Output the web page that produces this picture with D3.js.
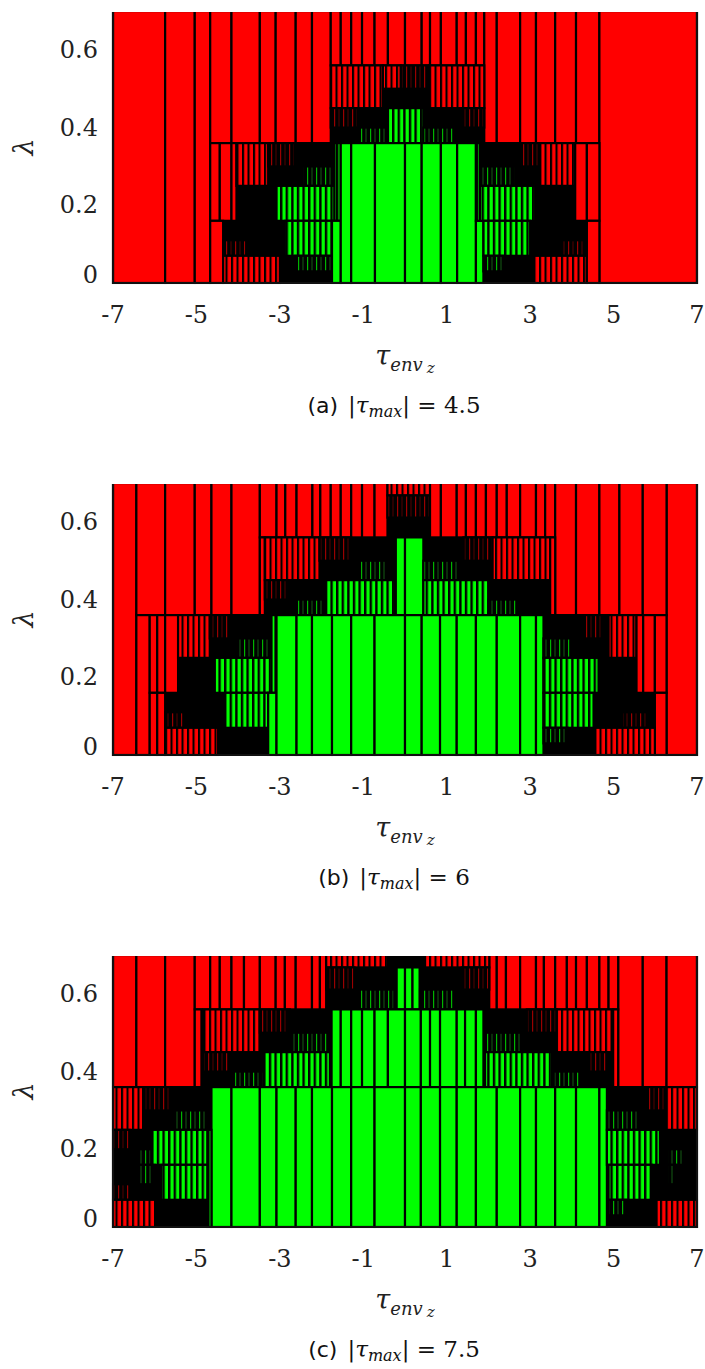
<!DOCTYPE html>
<html><head><meta charset="utf-8">
<script src="https://cdn.jsdelivr.net/npm/d3@7"></script>
<style>body{margin:0;background:#fff} svg{display:block}</style>
</head><body>
<script>
// ---------------- data ----------------
const xTicks = [-7, -5, -3, -1, 1, 3, 5, 7];
const yTicks = [0, 0.2, 0.4, 0.6];
const panelLetters = ["(a)", "(b)", "(c)"];
const tauMaxLabels = ["4.5", "6", "7.5"];
// box: [tau0, tau1, lambda0, lambda1, kind]
// kinds: R = outside (red), G = inside (green), r = fine red boxes,
// g = fine green boxes, d = boundary with few red boxes, e = boundary with few green boxes
const boxesA = [
  [-7,-5.75,0,0.7,"R"],[-5.75,-5.04,0,0.7,"R"],[-5.04,-4.67,0,0.7,"R"],
  [-4.67,-4.16,0.36,0.7,"R"],[-4.16,-3.48,0.36,0.7,"R"],[-3.48,-3.10,0.36,0.7,"R"],
  [-3.10,-2.62,0.36,0.7,"R"],[-2.62,-2.23,0.36,0.7,"R"],[-2.23,-1.78,0.36,0.7,"R"],
  [-1.78,-1.54,0.56,0.7,"R"],[-1.54,-1.29,0.56,0.7,"R"],[-1.29,-1.03,0.56,0.7,"R"],
  [-1.03,-0.73,0.56,0.7,"R"],[-0.73,-0.41,0.56,0.7,"R"],[-0.41,0,0.56,0.7,"R"],
  [0,0.4,0.56,0.7,"R"],[0.4,0.6,0.56,0.7,"R"],[0.6,0.86,0.56,0.7,"R"],
  [0.86,1.24,0.56,0.7,"R"],[1.24,1.46,0.56,0.7,"R"],[1.46,1.70,0.56,0.7,"R"],[1.70,1.90,0.56,0.7,"R"],
  [1.90,2.20,0.36,0.7,"R"],[2.20,2.76,0.36,0.7,"R"],[2.76,3.14,0.36,0.7,"R"],
  [3.14,3.60,0.36,0.7,"R"],[3.60,4.10,0.36,0.7,"R"],[4.10,4.66,0.36,0.7,"R"],
  [4.66,7,0,0.7,"R"],
  [-1.78,-0.53,0.45,0.56,"r"],[-0.53,-0.1,0.50,0.56,"r"],[-0.1,0.58,0.50,0.56,"d"],[0.58,1.90,0.45,0.56,"r"],
  [-1.78,-1.13,0.40,0.45,"d"],[-1.13,-0.45,0.36,0.40,"e"],[-0.41,0.44,0.36,0.45,"g"],
  [0.44,1.20,0.36,0.40,"e"],[1.36,1.90,0.40,0.45,"d"],
  [-4.67,-4.44,0.16,0.36,"R"],[-4.44,-4.16,0.16,0.36,"R"],[-4.16,-4.04,0.16,0.36,"R"],
  [-4.04,-3.28,0.25,0.36,"r"],[-3.28,-2.64,0.30,0.36,"d"],[-2.45,-1.69,0.25,0.30,"e"],
  [-3.08,-1.69,0.16,0.25,"g"],[-1.69,-1.54,0.16,0.36,"g"],
  [-4.67,-4.36,0,0.16,"R"],[-2.88,-1.75,0.07,0.16,"g"],[-4.36,-3.80,0.07,0.11,"d"],
  [-4.36,-3.00,0,0.07,"r"],[-2.64,-1.75,0.03,0.07,"e"],[-1.75,-1.54,0,0.16,"G"],
  [-1.54,-1.29,0,0.36,"G"],[-1.29,-0.72,0,0.36,"G"],[-0.72,0,0,0.36,"G"],[0,0.4,0,0.36,"G"],
  [0.4,0.86,0,0.36,"G"],[0.86,1.25,0,0.36,"G"],[1.25,1.70,0,0.36,"G"],
  [1.70,1.88,0,0.16,"G"],[1.70,1.80,0.16,0.36,"g"],
  [2.76,3.24,0.30,0.36,"d"],[3.24,4.08,0.25,0.36,"r"],[1.80,2.64,0.25,0.30,"e"],
  [1.80,3.12,0.16,0.25,"g"],[4.08,4.36,0.16,0.36,"R"],[4.36,4.66,0.16,0.36,"R"],
  [1.88,3.0,0.07,0.16,"g"],[3.76,4.32,0.07,0.11,"d"],[1.88,2.36,0.03,0.07,"e"],
  [3.08,4.36,0,0.07,"r"],[4.36,4.66,0,0.16,"R"]
];
const boxesB = [
  [-7,-6.44,0,0.7,"R"],[6.27,7,0,0.7,"R"],
  [-6.44,-5.75,0.36,0.7,"R"],[-5.75,-5.04,0.36,0.7,"R"],[-5.04,-4.64,0.36,0.7,"R"],
  [-4.64,-4.16,0.36,0.7,"R"],[-4.16,-3.48,0.36,0.7,"R"],
  [-3.48,-3.08,0.56,0.7,"R"],[-3.08,-2.87,0.56,0.7,"R"],[-2.87,-2.60,0.56,0.7,"R"],
  [-2.60,-2.22,0.56,0.7,"R"],[-2.22,-2.03,0.56,0.7,"R"],[-2.03,-1.78,0.56,0.7,"R"],
  [-1.78,-1.54,0.56,0.7,"R"],[-1.54,-1.29,0.56,0.7,"R"],[-1.29,-1.03,0.56,0.7,"R"],
  [-1.03,-0.73,0.56,0.7,"R"],[-0.73,-0.42,0.56,0.7,"R"],
  [-0.42,0.60,0.668,0.70,"r"],[-0.42,0.60,0.611,0.668,"d"],
  [0.60,0.86,0.56,0.7,"R"],[0.86,1.24,0.56,0.7,"R"],[1.24,1.46,0.56,0.7,"R"],
  [1.46,1.70,0.56,0.7,"R"],[1.70,1.94,0.56,0.7,"R"],[1.94,2.20,0.56,0.7,"R"],
  [2.20,2.44,0.56,0.7,"R"],[2.44,2.76,0.56,0.7,"R"],[2.76,3.14,0.56,0.7,"R"],
  [3.14,3.36,0.56,0.7,"R"],[3.36,3.60,0.56,0.7,"R"],
  [3.60,4.10,0.36,0.7,"R"],[4.10,4.66,0.36,0.7,"R"],[4.66,5.14,0.36,0.7,"R"],
  [5.14,5.70,0.36,0.7,"R"],[5.70,6.27,0.36,0.7,"R"],
  [-3.48,-3.36,0.36,0.56,"R"],[-3.36,-2.05,0.45,0.56,"r"],[-2.05,-1.29,0.50,0.56,"d"],
  [-1.15,-0.45,0.45,0.50,"e"],[-3.36,-2.8,0.40,0.45,"d"],[-1.9,-0.25,0.36,0.45,"g"],
  [-2.6,-1.9,0.36,0.40,"e"],[-0.22,0,0.36,0.56,"G"],[0,0.44,0.36,0.56,"G"],
  [1.40,2.10,0.50,0.56,"d"],[2.10,3.48,0.45,0.56,"r"],[0.44,1.30,0.45,0.50,"e"],
  [0.44,2.0,0.36,0.45,"g"],[2.0,2.7,0.36,0.40,"e"],[3.48,3.60,0.36,0.56,"R"],
  [-6.44,-6.12,0,0.36,"R"],[-6.12,-5.94,0.16,0.36,"R"],[-5.94,-5.75,0.16,0.36,"R"],
  [-5.75,-5.44,0.16,0.36,"R"],[-6.12,-5.94,0,0.16,"R"],[-5.94,-5.75,0,0.16,"R"],
  [-5.44,-4.68,0.25,0.36,"r"],[-4.68,-4.20,0.30,0.36,"d"],[-4.04,-3.20,0.25,0.30,"e"],
  [-4.56,-3.16,0.16,0.25,"g"],[-3.20,-3.08,0.16,0.36,"g"],
  [-4.32,-3.28,0.07,0.16,"g"],[-5.75,-5.3,0.07,0.11,"d"],[-5.75,-4.48,0,0.07,"r"],
  [-3.28,-3.08,0,0.16,"G"],
  [-3.08,-2.60,0,0.36,"G"],[-2.60,-2.23,0,0.36,"G"],[-2.23,-1.75,0,0.36,"G"],
  [-1.75,-1.29,0,0.36,"G"],[-1.29,-0.73,0,0.36,"G"],[-0.73,0,0,0.36,"G"],
  [0,0.40,0,0.36,"G"],[0.40,0.84,0,0.36,"G"],[0.84,1.24,0,0.36,"G"],
  [1.24,1.70,0,0.36,"G"],[1.70,2.20,0,0.36,"G"],[2.20,2.76,0,0.36,"G"],
  [2.76,3.14,0,0.36,"G"],[3.14,3.32,0,0.36,"G"],
  [4.28,4.72,0.30,0.36,"d"],[4.88,5.55,0.25,0.36,"r"],[5.55,5.71,0.16,0.36,"R"],
  [5.71,5.99,0.16,0.36,"R"],[5.99,6.27,0.16,0.36,"R"],[5.99,6.27,0,0.16,"R"],
  [3.32,3.98,0.25,0.30,"e"],[3.32,4.64,0.16,0.25,"g"],
  [3.32,4.52,0.07,0.16,"g"],[5.2,5.8,0.07,0.11,"d"],[3.32,3.9,0.03,0.07,"e"],
  [4.56,5.99,0,0.07,"r"]
];
const boxesC = [
  [-7,-6.44,0.36,0.7,"R"],[-6.44,-5.75,0.36,0.7,"R"],[-5.75,-5.04,0.36,0.7,"R"],
  [5.11,5.70,0.36,0.7,"R"],[5.70,6.27,0.36,0.7,"R"],[6.27,7,0.36,0.7,"R"],
  [-5.04,-4.67,0.56,0.7,"R"],[-4.67,-4.44,0.56,0.7,"R"],[-4.44,-4.16,0.56,0.7,"R"],
  [-4.16,-3.86,0.56,0.7,"R"],[-3.86,-3.48,0.56,0.7,"R"],[-3.48,-3.10,0.56,0.7,"R"],
  [-3.10,-2.88,0.56,0.7,"R"],[-2.88,-2.62,0.56,0.7,"R"],[-2.62,-2.23,0.56,0.7,"R"],
  [-2.23,-2.04,0.56,0.7,"R"],[-2.04,-1.89,0.56,0.7,"R"],
  [2.02,2.20,0.56,0.7,"R"],[2.20,2.42,0.56,0.7,"R"],[2.42,2.76,0.56,0.7,"R"],
  [2.76,3.14,0.56,0.7,"R"],[3.14,3.33,0.56,0.7,"R"],[3.33,3.60,0.56,0.7,"R"],
  [3.60,3.88,0.56,0.7,"R"],[3.88,4.10,0.56,0.7,"R"],[4.10,4.36,0.56,0.7,"R"],
  [4.36,4.66,0.56,0.7,"R"],[4.66,4.88,0.56,0.7,"R"],[4.88,5.11,0.56,0.7,"R"],
  [-1.89,-0.41,0.668,0.70,"r"],[0.48,2.02,0.668,0.70,"r"],
  [-1.89,-1.21,0.611,0.668,"d"],[-1.09,-0.25,0.56,0.611,"e"],
  [-0.2,0,0.56,0.668,"G"],[0,0.18,0.56,0.668,"G"],[0.18,0.35,0.56,0.668,"G"],
  [1.36,2.02,0.611,0.668,"d"],[0.36,1.2,0.56,0.611,"e"],
  [-5.04,-4.88,0.36,0.56,"R"],[-4.84,-3.48,0.45,0.56,"r"],[-3.48,-2.76,0.50,0.56,"d"],
  [-2.72,-1.82,0.45,0.50,"e"],[-4.84,-4.2,0.40,0.45,"d"],[-3.4,-1.8,0.36,0.45,"g"],
  [-4.1,-3.4,0.36,0.40,"e"],
  [-1.76,-1.54,0.36,0.56,"G"],[-1.54,-1.29,0.36,0.56,"G"],[-1.29,-1.03,0.36,0.56,"G"],
  [-1.03,-0.73,0.36,0.56,"G"],[-0.73,-0.41,0.36,0.56,"G"],[-0.41,0,0.36,0.56,"G"],
  [0,0.38,0.36,0.56,"G"],[0.38,0.6,0.36,0.56,"G"],[0.6,0.84,0.36,0.56,"G"],
  [0.84,1.24,0.36,0.56,"G"],[1.24,1.44,0.36,0.56,"G"],[1.44,1.70,0.36,0.56,"G"],
  [1.70,1.88,0.36,0.56,"G"],
  [2.92,3.64,0.50,0.56,"d"],[3.64,4.99,0.45,0.56,"r"],[1.92,2.80,0.45,0.50,"e"],
  [1.92,3.52,0.36,0.45,"g"],[4.36,4.88,0.40,0.45,"d"],[3.56,4.24,0.36,0.40,"e"],
  [4.99,5.11,0.36,0.56,"R"],
  [-4.64,-4.16,0,0.36,"G"],[-4.16,-3.48,0,0.36,"G"],[-3.48,-3.08,0,0.36,"G"],
  [-3.08,-2.62,0,0.36,"G"],[-2.62,-2.23,0,0.36,"G"],[-2.23,-1.75,0,0.36,"G"],
  [-1.75,-1.29,0,0.36,"G"],[-1.29,-0.73,0,0.36,"G"],[-0.73,0,0,0.36,"G"],
  [0,0.38,0,0.36,"G"],[0.38,0.84,0,0.36,"G"],[0.84,1.24,0,0.36,"G"],
  [1.24,1.70,0,0.36,"G"],[1.70,2.20,0,0.36,"G"],[2.20,2.76,0,0.36,"G"],
  [2.76,3.14,0,0.36,"G"],[3.14,3.60,0,0.36,"G"],[3.60,4.10,0,0.36,"G"],
  [4.10,4.66,0,0.36,"G"],[4.66,4.84,0,0.36,"G"],
  [-4.74,-4.64,0,0.25,"g"],
  [-7,-6.28,0.25,0.36,"r"],[-6.24,-5.6,0.30,0.36,"d"],[-5.52,-4.76,0.25,0.30,"e"],
  [-7,-6.6,0.20,0.25,"d"],[-6.08,-4.74,0.16,0.25,"g"],[-6.4,-6.08,0.16,0.20,"e"],
  [-6.4,-6.0,0.11,0.16,"e"],[-5.84,-4.74,0.07,0.16,"g"],[-7,-6.56,0.07,0.11,"d"],
  [-7,-5.99,0,0.07,"r"],
  [5.75,6.27,0.30,0.36,"d"],[6.27,7,0.25,0.36,"r"],[4.84,5.6,0.25,0.30,"e"],
  [4.84,6.11,0.16,0.25,"g"],[6.3,6.7,0.16,0.20,"e"],[4.88,5.92,0.07,0.16,"g"],
  [6.3,6.5,0.11,0.16,"e"],[4.88,5.3,0.03,0.07,"e"],[6.03,7,0,0.07,"r"]
];

// ---------------- layout ----------------
const W = 705, H = 1369;
const plotLeft = 113, plotRight = 697, plotH = 272;
const panelTops = [11, 483, 955];
const panelBoxes = [boxesA, boxesB, boxesC];
const serif = "'DejaVu Serif', serif";

const svg = d3.select("body").append("svg").attr("width", W).attr("height", H);
const defs = svg.append("defs");

function stripePattern(id, bg, bars, period) {
  const p = defs.append("pattern").attr("id", id).attr("patternUnits", "userSpaceOnUse")
    .attr("width", period).attr("height", 20);
  p.append("rect").attr("width", period).attr("height", 20).attr("fill", bg);
  bars.forEach(b => p.append("rect").attr("x", b[0]).attr("width", b[1]).attr("height", 20).attr("fill", b[2]));
}
stripePattern("pr", "#000", [[2.1, 3.4, "#ff0000"]], 5.5);
stripePattern("pg", "#000", [[2.4, 3.2, "#00ff00"]], 5.6);
stripePattern("pe", "#000", [[1, 1.2, "#00b400"], [5.5, 1, "#145c14"]], 9);
stripePattern("pd", "#000", [[1, 1.2, "#9a0000"], [5.5, 1, "#520000"]], 9);

const fillOf = {R: "#ff0000", G: "#00ff00", r: "url(#pr)", g: "url(#pg)", e: "url(#pe)", d: "url(#pd)"};

const x = d3.scaleLinear().domain([-7, 7]).range([plotLeft, plotRight]);

panelTops.forEach((top, i) => {
  const y = d3.scaleLinear().domain([0, 0.7]).range([top + plotH, top]);
  const g = svg.append("g");
  const cid = "clip" + i;
  defs.append("clipPath").attr("id", cid).append("rect")
    .attr("x", plotLeft - 1.2).attr("y", top + 1)
    .attr("width", plotRight - plotLeft + 2.4).attr("height", plotH + 0.2);
  const plot = g.append("g").attr("clip-path", `url(#${cid})`);
  plot.append("rect").attr("x", plotLeft).attr("y", top)
    .attr("width", plotRight - plotLeft).attr("height", plotH).attr("fill", "#000");
  plot.selectAll("rect.box").data(panelBoxes[i]).join("rect").attr("class", "box")
    .attr("x", d => x(d[0])).attr("y", d => y(d[3]))
    .attr("width", d => x(d[1]) - x(d[0])).attr("height", d => y(d[2]) - y(d[3]))
    .attr("fill", d => fillOf[d[4]])
    .attr("stroke", "#000").attr("stroke-width", 2.2);
  // frame lines on left, right, bottom
  g.append("path").attr("d", `M${plotLeft},${top + 1}V${top + plotH}H${plotRight}V${top + 1}`)
    .attr("fill", "none").attr("stroke", "#111").attr("stroke-width", 2.2);

  // y tick labels
  g.selectAll("text.yt").data(yTicks).join("text").attr("class", "yt")
    .attr("x", 98).attr("y", d => Math.min(y(d) + 8, top + plotH))
    .attr("text-anchor", "end").attr("font-family", serif).attr("font-size", 24)
    .attr("fill", "#222").text(d => d === 0 ? "0" : d3.format(".1f")(d));
  // x tick labels
  g.selectAll("text.xt").data(xTicks).join("text").attr("class", "xt")
    .attr("x", d => x(d)).attr("y", top + plotH + 40)
    .attr("text-anchor", "middle").attr("font-family", serif).attr("font-size", 24)
    .attr("fill", "#222").text(d => String(d));
  // y label
  g.append("text").attr("transform", `translate(33,${top + 136}) rotate(-90)`)
    .attr("text-anchor", "middle").attr("font-family", serif).attr("font-style", "italic")
    .attr("font-size", 27).attr("fill", "#222").text("λ");
  // x label
  const xl = g.append("text").attr("x", 405).attr("y", top + plotH + 82)
    .attr("text-anchor", "middle").attr("font-family", serif).attr("font-style", "italic").attr("fill", "#222");
  xl.append("tspan").attr("font-size", 27).text("τ");
  xl.append("tspan").attr("font-size", 18).attr("dy", 6).text("env");
  xl.append("tspan").attr("font-size", 15).attr("dx", 4).attr("dy", 2).text("z");
  // caption
  const cap = g.append("text").attr("x", 394).attr("y", top + plotH + 130)
    .attr("text-anchor", "middle").attr("fill", "#111");
  cap.append("tspan").attr("font-family", "'DejaVu Sans', sans-serif").attr("font-size", 22).text(panelLetters[i] + " ");
  cap.append("tspan").attr("font-family", serif).attr("font-size", 23).attr("dx", 3).text("|");
  cap.append("tspan").attr("font-family", serif).attr("font-style", "italic").attr("font-size", 23).text("τ");
  cap.append("tspan").attr("font-family", serif).attr("font-style", "italic").attr("font-size", 16).attr("dy", 4).text("max");
  cap.append("tspan").attr("font-family", serif).attr("font-size", 23).attr("dy", -4).text("| = " + tauMaxLabels[i]);
});
</script>
</body></html>
